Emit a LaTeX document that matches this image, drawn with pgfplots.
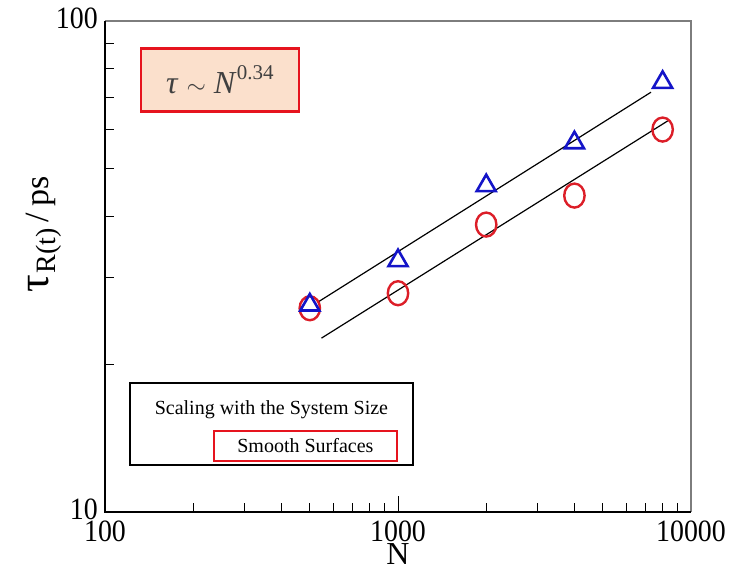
\documentclass[border=0pt]{standalone}
\usepackage{fontspec}
\setmainfont{Liberation Serif}
\usepackage{graphicx}
\usepackage{pgfplots}
\pgfplotsset{compat=1.18}

\definecolor{triblue}{RGB}{20,20,200}
\definecolor{circred}{RGB}{220,30,40}
\definecolor{boxred}{RGB}{230,20,30}
\definecolor{peach}{RGB}{251,224,204}
\definecolor{framegray}{RGB}{125,125,125}

\newcommand{\tl}[1]{\scalebox{0.9}[1]{#1}}

\begin{document}
\begin{tikzpicture}[x=1pt,y=1pt]
\useasboundingbox (0,0) rectangle (735,573);
\begin{axis}[
  at={(105pt,61pt)}, anchor=south west,
  scale only axis, width=586pt, height=491pt,
  xmode=log, ymode=log,
  xmin=100, xmax=10000, ymin=10, ymax=100,
  axis line style={draw=none},
  xtick={100,1000,10000}, xticklabels={\tl{100},\tl{1000},\tl{10000}},
  ytick={10,100}, yticklabels={\tl{10},\tl{100}},
  xtick pos=bottom, ytick pos=left,
  tick align=inside,
  major tick length=16pt, minor tick length=9pt,
  every tick/.style={black, line width=0.9pt},
  tick label style={font=\fontsize{31}{31}\selectfont, inner sep=0pt,
                    text height=21pt, text depth=0pt},
  /pgf/number format/assume math mode=true,
  xticklabel style={yshift=-8pt},
  yticklabel style={xshift=-7pt, yshift=3pt},
  xlabel={N},
  xlabel style={font=\fontsize{32}{32}\selectfont, inner sep=0pt,
                text height=21.5pt, text depth=0pt, yshift=-2pt},
  clip=false,
]
% frame: heavy left/bottom, light top/right
\draw[framegray, line width=2pt] (rel axis cs:0,1) -- (rel axis cs:1,1) -- (rel axis cs:1,0);
\draw[black, line width=2.8pt] (rel axis cs:0,1) -- (rel axis cs:0,0) -- (rel axis cs:1,0);

% power-law fits
\addplot[black, line width=1.2pt] coordinates {(535,26.8) (7300,71.6)};
\addplot[black, line width=1.2pt] coordinates {(548,22.6) (8400,62.8)};

% data
\addplot[circred, only marks, mark=o, mark size=12pt,
  mark options={xscale=0.85, line width=2.4pt}]
  coordinates {(500,26.0) (1000,27.9) (2000,38.5) (4000,44.1) (8000,60.1)};
\addplot[triblue, only marks, mark=triangle, mark size=11pt,
  mark options={line width=2.6pt}]
  coordinates {(500,26.4) (1000,32.5) (2000,46.2) (4000,56.5) (8000,75.0)};

% annotation boxes
\node[draw=boxred, line width=2.6pt, fill=peach, minimum width=158pt, minimum height=63pt,
      text=black!75, font=\fontsize{32}{32}\selectfont]
  at (rel axis cs:0.196,0.880) {\textit{τ} $\sim$ \textit{N}\raisebox{0.45em}{\fontsize{21}{21}\selectfont 0.34}};

\draw[black, line width=1.3pt] (rel axis cs:0.0427,0.0957) rectangle (rel axis cs:0.5256,0.2627);
\node[font=\fontsize{20}{20}\selectfont, inner sep=0pt] at (rel axis cs:0.284,0.208) {Scaling with the System Size};
\node[draw=boxred, line width=2.4pt, minimum width=183pt, minimum height=30pt,
      font=\fontsize{20}{20}\selectfont] at (rel axis cs:0.342,0.135) {Smooth Surfaces};
\end{axis}

% y axis title, written bottom to top
\node[rotate=90, anchor=base west, inner sep=0pt] at (48,280)
  {{\fontsize{44}{44}\selectfont τ}\hspace{2pt}\raisebox{-7pt}{\fontsize{28}{28}\selectfont R(t)}\hspace{6pt}{\fontsize{34}{34}\selectfont /\hspace{6pt}ps}};
\end{tikzpicture}
\end{document}
